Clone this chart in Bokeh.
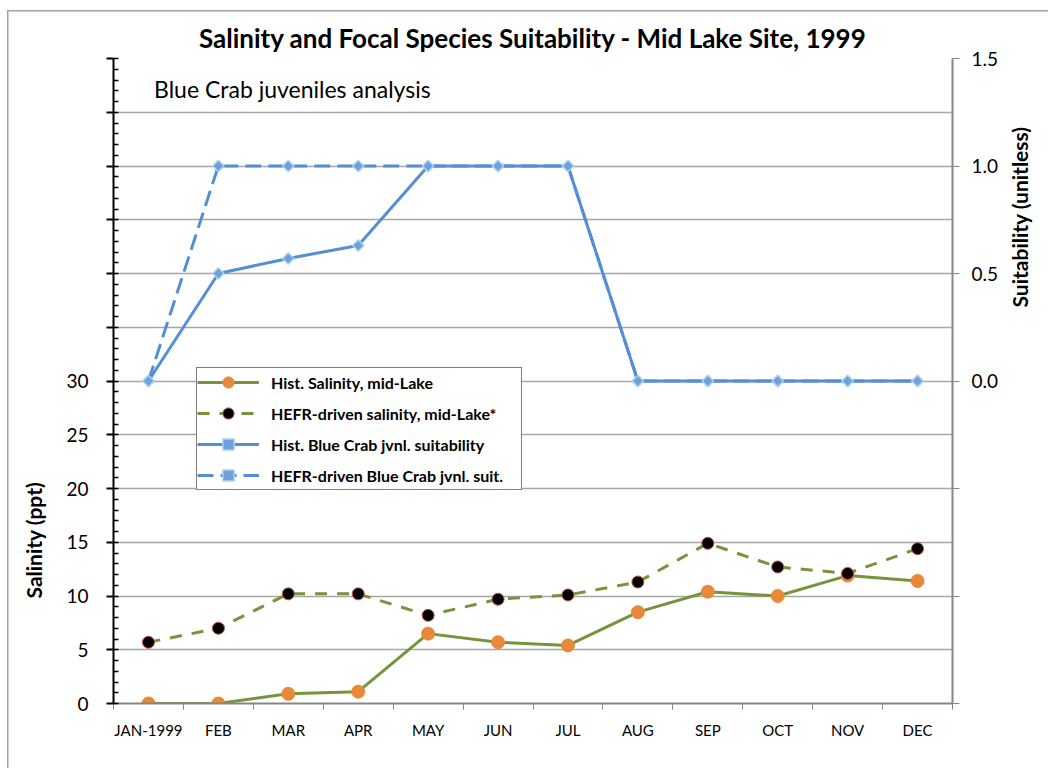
from bokeh.plotting import figure
from bokeh.models import (ColumnDataSource, Range1d, LinearAxis, FixedTicker, Label, Title)
from bokeh.embed import file_html
from bokeh.resources import INLINE
import math

months = ["JAN-1999", "FEB", "MAR", "APR", "MAY", "JUN", "JUL", "AUG", "SEP", "OCT", "NOV", "DEC"]
hist_salinity = [0.0, 0.0, 0.9, 1.1, 6.5, 5.7, 5.4, 8.5, 10.4, 10.0, 11.9, 11.4]
hefr_salinity = [5.7, 7.0, 10.2, 10.2, 8.2, 9.7, 10.1, 11.3, 14.9, 12.7, 12.1, 14.4]
hist_suit = [0.0, 0.5, 0.57, 0.63, 1.0, 1.0, 1.0, 0.0, 0.0, 0.0, 0.0, 0.0]
hefr_suit = [0.0, 1.0, 1.0, 1.0, 1.0, 1.0, 1.0, 0.0, 0.0, 0.0, 0.0, 0.0]

left_ticks = [0, 5, 10, 15, 20, 25, 30, 35, 40, 45, 50, 55, 60]
left_labels = ["0", "5", "10", "15", "20", "25", "30", "", "", "", "", "", ""]
right_ticks = [-1.5, -1.0, -0.5, 0.0, 0.5, 1.0, 1.5]
right_labels = ["", "", "", "0.0", "0.5", "1.0", "1.5"]

FONT = "Lato"
GREEN = "#77933C"
ORANGE = "#E8893A"
BLUE = "#558ED5"
DIAMOND = "#6FA0DC"
DIAMOND_EDGE = "#A9D3EE"
GRID = "#A6A6A6"
EDGE = "#A0A0A0"

xs = list(range(len(months)))
src = ColumnDataSource(dict(x=xs, hs=hist_salinity, fs=hefr_salinity, hu=hist_suit, fu=hefr_suit))

p = figure(width=1048, height=768, output_backend="svg", toolbar_location=None,
           x_range=Range1d(-0.5, len(months) - 0.5), y_range=Range1d(0, 60),
           min_border_left=110, min_border_right=96, min_border_top=58, min_border_bottom=65)
p.extra_y_ranges = {"suit": Range1d(-1.5, 1.5)}
p.outline_line_color = None
p.background_fill_color = "white"
p.border_fill_color = "white"
p.border_fill_alpha = 0
p.styles = {
    "background-color": "white",
    "background-image": f"linear-gradient({EDGE}, {EDGE}), linear-gradient({EDGE}, {EDGE})",
    "background-position": "7px 10px, 7px 10px",
    "background-size": "1.5px 100%, 100% 1.5px",
    "background-repeat": "no-repeat",
}

p.title.text = "Salinity and Focal Species Suitability - Mid Lake Site, 1999"
p.title.align = "center"
p.title.text_font = FONT
p.title.text_font_size = "26px"
p.title.text_font_style = "bold"
p.title.text_color = "black"

# x axis
xa = p.xaxis[0]
xa.ticker = FixedTicker(ticks=xs, minor_ticks=[i - 0.5 for i in range(len(months) + 1)])
xa.major_label_overrides = {i: m for i, m in enumerate(months)}
xa.major_tick_line_color = None
xa.major_tick_out = 0
xa.minor_tick_out = 6
xa.minor_tick_in = 0
xa.minor_tick_line_color = "#868686"
xa.axis_line_color = "#868686"
xa.axis_line_width = 2
xa.major_label_text_font = FONT
xa.major_label_text_font_size = "15px"
xa.major_label_text_color = "black"
xa.major_label_standoff = 11

# left axis
ya = p.yaxis[0]
ya.ticker = FixedTicker(ticks=left_ticks, minor_ticks=list(range(0, 61)))
ya.major_label_overrides = {t: l for t, l in zip(left_ticks, left_labels)}
ya.axis_line_color = "black"
ya.axis_line_width = 2
ya.major_tick_line_color = "black"
ya.major_tick_line_width = 2
ya.major_tick_out = 7
ya.major_tick_in = 0
ya.minor_tick_line_color = "black"
ya.minor_tick_line_width = 1.5
ya.minor_tick_out = 0
ya.minor_tick_in = 5
ya.major_label_text_font = FONT
ya.major_label_text_font_size = "19px"
ya.major_label_text_color = "black"
ya.major_label_standoff = 18

# right axis
ra = LinearAxis(y_range_name="suit")
ra.ticker = FixedTicker(ticks=right_ticks, minor_ticks=[])
ra.major_label_overrides = {t: l for t, l in zip(right_ticks, right_labels)}
ra.axis_line_color = "#868686"
ra.axis_line_width = 2
ra.major_tick_line_color = "#868686"
ra.major_tick_out = 7
ra.major_tick_in = 0
ra.major_label_text_font = FONT
ra.major_label_text_font_size = "19px"
ra.major_label_text_color = "black"
ra.major_label_standoff = 12
p.add_layout(ra, "right")

# right axis title carried by a bare axis
rt = LinearAxis(y_range_name="suit", bounds=(0, 1.5), ticker=FixedTicker(ticks=[]),
                axis_label="\u2002" * 7 + "Suitability (unitless)")
rt.axis_line_color = None
rt.major_tick_line_color = None
rt.minor_tick_line_color = None
rt.major_tick_out = 0
rt.minor_tick_out = 0
rt.major_label_text_font_size = "0px"
rt.major_label_standoff = 0
rt.axis_label_standoff = 18
rt.axis_label_text_font = FONT
rt.axis_label_text_font_size = "21px"
rt.axis_label_text_font_style = "bold"
rt.axis_label_text_color = "black"
try:
    rt.axis_label_orientation = math.pi / 2
except Exception:
    pass
p.add_layout(rt, "right")

p.xgrid.grid_line_color = None
p.ygrid.ticker = FixedTicker(ticks=left_ticks)
p.ygrid.grid_line_color = GRID
p.ygrid.grid_line_width = 1.5

# salinity series
p.line("x", "hs", source=src, line_color=GREEN, line_width=3, legend_label="Hist. Salinity, mid-Lake")
p.scatter("x", "hs", source=src, marker="circle", size=13, fill_color=ORANGE, line_color=ORANGE,
          legend_label="Hist. Salinity, mid-Lake")
p.line("x", "fs", source=src, line_color=GREEN, line_width=3, line_dash="12 10",
       legend_label="HEFR-driven salinity, mid-Lake*")
p.scatter("x", "fs", source=src, marker="circle", size=12, fill_color="black", line_color="#C0504D",
          line_width=1, legend_label="HEFR-driven salinity, mid-Lake*")

# suitability series
p.line("x", "hu", source=src, y_range_name="suit", line_color=BLUE, line_width=3,
       legend_label="Hist. Blue Crab jvnl. suitability")
p.scatter("x", "hu", source=src, y_range_name="suit", marker="square", angle=math.pi / 4, size=8,
          fill_color=DIAMOND, line_color=DIAMOND_EDGE, line_width=1.5,
          legend_label="Hist. Blue Crab jvnl. suitability")
p.line("x", "fu", source=src, y_range_name="suit", line_color=BLUE, line_width=3, line_dash="16 7",
       legend_label="HEFR-driven Blue Crab jvnl. suit.")
p.scatter("x", "fu", source=src, y_range_name="suit", marker="square", angle=math.pi / 4, size=8,
          fill_color=DIAMOND, line_color=DIAMOND_EDGE, line_width=1.5,
          legend_label="HEFR-driven Blue Crab jvnl. suit.")

lg = p.legend[0]
lg.location = (83, 213)
lg.border_line_color = "black"
lg.border_line_width = 1.5
lg.background_fill_color = "white"
lg.background_fill_alpha = 1
lg.label_text_font = FONT
lg.label_text_font_size = "16px"
lg.label_text_font_style = "bold"
lg.label_text_color = "black"
lg.glyph_width = 62
lg.glyph_height = 28
lg.label_height = 28
lg.label_width = 250
lg.spacing = 3
lg.padding = 0
lg.margin = 0
lg.label_standoff = 12

# text annotations
p.add_layout(Label(x=0.08, y=57.2, text="Blue Crab juveniles analysis", text_font=FONT,
                   text_font_size="23px", text_color="black", text_baseline="middle"))
p.add_layout(Title(text="Salinity (ppt)", align="left", offset=105, text_font=FONT,
                   text_font_size="21px", text_font_style="bold", text_color="black", standoff=36), "left")

open("out.html", "w").write(file_html(p, INLINE))
